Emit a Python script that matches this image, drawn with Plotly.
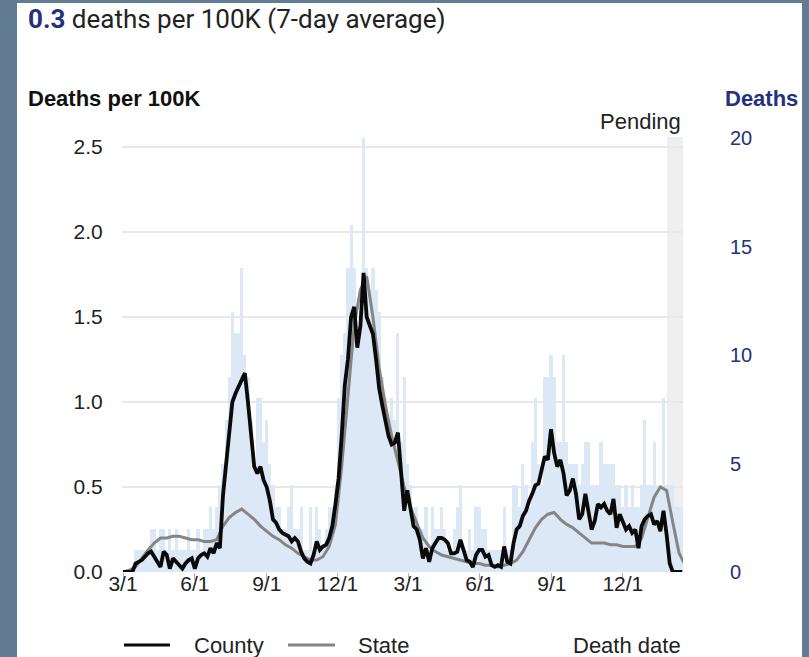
import plotly.graph_objects as go
import pandas as pd

# ---------------- data ----------------
start_date = "2020-03-01"
county_dates = pd.date_range(start_date, periods=180, freq="4D")
state_dates = pd.date_range(start_date, periods=91, freq="8D")

daily_deaths = [
    0, 0, 0, 0, 1, 1, 1, 1, 1, 2,
    2, 1, 2, 2, 1, 2, 1, 2, 1, 1,
    1, 2, 1, 1, 2, 1, 2, 2, 3, 2,
    3, 4, 5, 7, 9, 12, 11, 11, 14, 10,
    9, 7, 5, 8, 8, 6, 7, 5, 4, 3,
    3, 2, 2, 3, 4, 2, 2, 3, 1, 1,
    3, 1, 3, 2, 1, 2, 3, 3, 4, 8,
    10, 11, 14, 16, 14, 11, 12, 20, 14, 13,
    14, 13, 12, 9, 8, 7, 8, 7, 11, 6,
    9, 5, 4, 3, 3, 2, 2, 3, 1, 3,
    2, 2, 3, 2, 1, 1, 2, 3, 4, 1,
    1, 2, 1, 3, 3, 2, 2, 1, 1, 1,
    1, 1, 3, 1, 1, 4, 4, 3, 5, 4,
    3, 6, 8, 5, 4, 9, 9, 10, 9, 6,
    6, 10, 6, 5, 5, 5, 4, 5, 6, 6,
    4, 4, 4, 6, 5, 5, 5, 5, 4, 4,
    3, 4, 3, 4, 3, 3, 4, 7, 4, 4,
    6, 4, 4, 8, 4, 4, 4, 3, 3, 3,
]

county_rate = [
    0.0, 0.0, 0.0, 0.0, 0.05, 0.06, 0.07, 0.09, 0.11, 0.12,
    0.09, 0.05, 0.03, 0.12, 0.10, 0.02, 0.08, 0.06, 0.04, 0.02,
    0.05, 0.07, 0.08, 0.02, 0.08, 0.10, 0.11, 0.09, 0.14, 0.11,
    0.17, 0.14, 0.45, 0.64, 0.80, 1.00, 1.05, 1.09, 1.12, 1.17,
    1.00, 0.80, 0.62, 0.58, 0.62, 0.54, 0.50, 0.42, 0.31, 0.29,
    0.25, 0.23, 0.22, 0.21, 0.18, 0.20, 0.18, 0.12, 0.08, 0.06,
    0.05, 0.10, 0.18, 0.13, 0.15, 0.16, 0.20, 0.27, 0.40, 0.55,
    0.80, 1.10, 1.25, 1.50, 1.56, 1.32, 1.45, 1.76, 1.50, 1.45,
    1.40, 1.25, 1.08, 0.98, 0.88, 0.80, 0.75, 0.76, 0.82, 0.60,
    0.36, 0.48, 0.36, 0.27, 0.25, 0.19, 0.08, 0.14, 0.06, 0.14,
    0.17, 0.20, 0.20, 0.19, 0.17, 0.11, 0.11, 0.12, 0.19, 0.13,
    0.07, 0.06, 0.03, 0.10, 0.13, 0.13, 0.09, 0.10, 0.04, 0.03,
    0.04, 0.03, 0.15, 0.06, 0.05, 0.17, 0.25, 0.27, 0.33, 0.36,
    0.42, 0.46, 0.51, 0.52, 0.61, 0.68, 0.66, 0.84, 0.70, 0.62,
    0.66, 0.58, 0.45, 0.48, 0.55, 0.46, 0.31, 0.34, 0.46, 0.36,
    0.25, 0.30, 0.40, 0.38, 0.40, 0.36, 0.34, 0.43, 0.26, 0.34,
    0.29, 0.25, 0.27, 0.23, 0.25, 0.14, 0.27, 0.31, 0.33, 0.34,
    0.28, 0.30, 0.24, 0.36, 0.22, 0.05, 0.0, 0.0, 0.0, 0.0,
]

state_rate = [
    0.0, 0.01, 0.03, 0.08, 0.13, 0.17, 0.20, 0.20, 0.21, 0.21,
    0.20, 0.19, 0.19, 0.18, 0.18, 0.19, 0.27, 0.32, 0.35, 0.37,
    0.34, 0.31, 0.27, 0.24, 0.21, 0.19, 0.16, 0.14, 0.11, 0.09,
    0.07, 0.07, 0.09, 0.15, 0.28, 0.62, 1.02, 1.45, 1.66, 1.74,
    1.50, 1.20, 0.98, 0.80, 0.65, 0.50, 0.38, 0.29, 0.20, 0.15,
    0.12, 0.10, 0.09, 0.08, 0.07, 0.06, 0.05, 0.05, 0.04, 0.04,
    0.03, 0.04, 0.05, 0.07, 0.12, 0.19, 0.26, 0.31, 0.34, 0.35,
    0.31, 0.28, 0.26, 0.23, 0.20, 0.17, 0.17, 0.17, 0.16, 0.16,
    0.15, 0.15, 0.15, 0.20, 0.32, 0.44, 0.50, 0.48, 0.29, 0.11,
    0.04,
]

tick_dates = ["2020-03-01", "2020-06-01", "2020-09-01", "2020-12-01",
              "2021-03-01", "2021-06-01", "2021-09-01", "2021-12-01"]
tick_labels = ["3/1", "6/1", "9/1", "12/1", "3/1", "6/1", "9/1", "12/1"]
rate_ticks = [0.0, 0.5, 1.0, 1.5, 2.0, 2.5]
rate_tick_labels = ["0.0", "0.5", "1.0", "1.5", "2.0", "2.5"]
death_ticks = [0, 5, 10, 15, 20]
pending_start = "2022-01-26T12:00"
x_start = "2020-02-28T17:00"
x_end = "2022-02-16"
headline_value = "0.3"

# ---------------- styles ----------------
FRAME = "#627c93"
NAVY = "#23317e"
TXT = "#222222"
BAR = "#dce8f5"
TICKFONT = "Liberation Sans"

fig = go.Figure()

fig.add_trace(go.Bar(
    x=county_dates, y=daily_deaths, yaxis="y",
    width=4 * 86400000, marker=dict(color=BAR, line=dict(width=0)),
    hoverinfo="skip", showlegend=False,
))
fig.add_trace(go.Scatter(
    x=state_dates, y=state_rate, yaxis="y2", mode="lines",
    line=dict(color="#858585", width=3), hoverinfo="skip", showlegend=False,
))
fig.add_trace(go.Scatter(
    x=county_dates, y=county_rate, yaxis="y2", mode="lines",
    line=dict(color="#0a0a0a", width=3.8), hoverinfo="skip", showlegend=False,
))

fig.update_layout(
    width=809, height=657, autosize=False,
    margin=dict(l=122, r=126, t=137, b=85, pad=0),
    paper_bgcolor=FRAME, plot_bgcolor="white",
    bargap=0, showlegend=False, hovermode=False,
    xaxis=dict(
        type="date", range=[x_start, x_end],
        tickvals=tick_dates, ticktext=tick_labels,
        ticks="outside", ticklen=7, tickwidth=1, tickcolor="#b5b5b5",
        ticklabelstandoff=-14,
        showgrid=False, zeroline=False, showline=False,
        tickfont=dict(family=TICKFONT, size=21, color=TXT),
    ),
    yaxis=dict(
        side="right", range=[0, 20.05], tickvals=death_ticks,
        showgrid=False, zeroline=False, showline=False,
        ticks="outside", ticklen=42, tickcolor="rgba(0,0,0,0)",
        tickfont=dict(family=TICKFONT, size=20, color=NAVY),
    ),
    yaxis2=dict(
        overlaying="y", side="left", range=[0, 2.559],
        tickvals=rate_ticks, ticktext=rate_tick_labels,
        showgrid=True, gridcolor="#e8e8e8", gridwidth=1.3,
        zeroline=False, showline=False,
        ticks="outside", ticklen=14, tickcolor="rgba(0,0,0,0)",
        tickfont=dict(family=TICKFONT, size=21, color=TXT),
    ),
)

def px_x(p):
    return (p - 122) / 561.0

def px_y(p):
    return (572 - p) / 435.0

shapes = [
    # white panel inside the frame
    dict(type="rect", xref="paper", yref="paper", layer="below",
         x0=px_x(17), x1=px_x(802), y0=px_y(700), y1=px_y(3),
         fillcolor="white", line=dict(width=0)),
    # pending band
    dict(type="rect", xref="x", yref="paper", layer="below",
         x0=pending_start, x1=x_end, y0=0, y1=1,
         fillcolor="#efefef", line=dict(width=0)),
    # legend samples
    dict(type="line", xref="paper", yref="paper",
         x0=px_x(124), x1=px_x(170), y0=px_y(645), y1=px_y(645),
         line=dict(color="#0a0a0a", width=3)),
    dict(type="line", xref="paper", yref="paper",
         x0=px_x(288), x1=px_x(335), y0=px_y(645), y1=px_y(645),
         line=dict(color="#858585", width=3)),
]
fig.update_layout(shapes=shapes)

annotations = [
    dict(text=f"<span style='color:{NAVY}'><b>{headline_value}</b></span>"
              f"<span style='color:{TXT}'> deaths per 100K (7-day average)</span>",
         x=px_x(26), y=px_y(19), xanchor="left", yanchor="middle",
         font=dict(family="Roboto", size=26, color=TXT)),
    dict(text="<b>Deaths per 100K</b>", x=px_x(26), y=px_y(98),
         xanchor="left", yanchor="middle",
         font=dict(family="Liberation Sans", size=22, color="#111111")),
    dict(text="<b>Deaths</b>", x=px_x(800), y=px_y(98),
         xanchor="right", yanchor="middle",
         font=dict(family="Liberation Sans", size=22, color=NAVY)),
    dict(text="Pending", x=1.0, y=px_y(122), xanchor="right", yanchor="middle",
         font=dict(family=TICKFONT, size=22, color=TXT)),
    dict(text="County", x=px_x(192), y=px_y(645), xanchor="left", yanchor="middle",
         font=dict(family=TICKFONT, size=22, color=TXT)),
    dict(text="State", x=px_x(356), y=px_y(645), xanchor="left", yanchor="middle",
         font=dict(family=TICKFONT, size=22, color=TXT)),
    dict(text="Death date", x=1.0, y=px_y(645), xanchor="right", yanchor="middle",
         font=dict(family=TICKFONT, size=22, color=TXT)),
]
for a in annotations:
    a.update(xref="paper", yref="paper", showarrow=False)
fig.update_layout(annotations=annotations)

fig.write_html(
    "out.html",
    config={"displayModeBar": False, "staticPlot": True},
    post_script="document.body.style.margin='0px';document.body.style.overflow='hidden';",
)
